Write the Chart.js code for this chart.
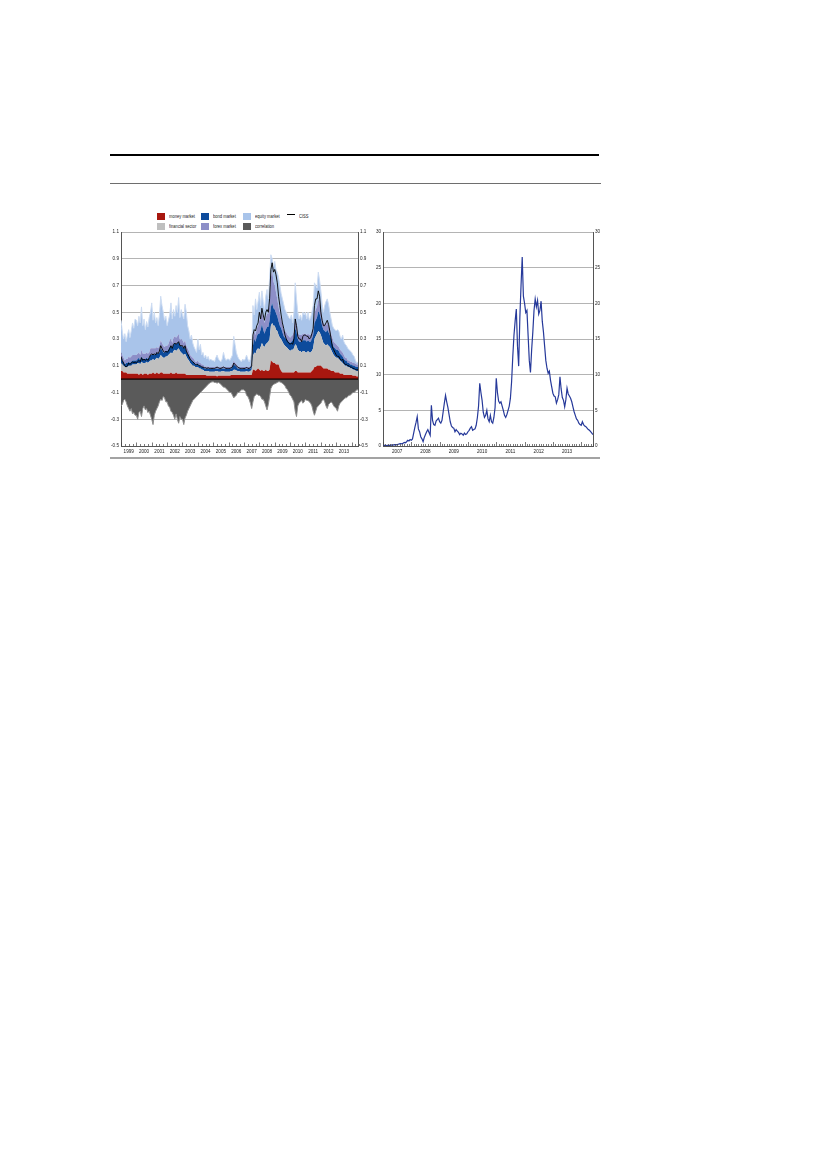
<!DOCTYPE html>
<html>
<head>
<meta charset="utf-8">
<title>CISS and sovereign stress</title>
<script src="https://cdn.jsdelivr.net/npm/chart.js@4.4.1/dist/chart.umd.min.js"></script>
<style>
  html, body { margin: 0; padding: 0; background: #fff; }
  body { width: 827px; height: 1169px; position: relative; overflow: hidden;
         font-family: 'Liberation Sans', Arial, sans-serif; }
  .rule { position: absolute; }
  canvas { position: absolute; }
  .key { position: absolute; font-size: 5.4px; line-height: 7px; color: #222; white-space: nowrap; }
  .key i { display: inline-block; width: 8px; height: 7px; vertical-align: top; margin-right: 4px; }
  .key b { display: inline-block; width: 8px; height: 1px; vertical-align: 3px; margin-right: 4px; background: #000; }
  .key span { display: inline-block; transform: scaleX(0.76); transform-origin: 0 50%; }
</style>
</head>
<body>
<div class="rule" style="left:110px;top:154px;width:489px;height:2px;background:#000"></div>
<div class="rule" style="left:110px;top:183px;width:491px;height:1px;background:#6e6e6e"></div>
<div class="rule" style="left:110px;top:457px;width:490px;height:2px;background:#a3a3a3"></div>
<div id="legend"></div>
<canvas id="cissChart" width="266" height="234" style="left:106px;top:226px"></canvas>
<canvas id="sovChart" width="240" height="234" style="left:368px;top:226px"></canvas>
<script>
'use strict';

// ---- left panel: monthly values, Jan 1999 .. Jun 2014 ----
const leftStart = 1999;
const leftYears = [1999, 2000, 2001, 2002, 2003, 2004, 2005, 2006, 2007, 2008, 2009, 2010, 2011, 2012, 2013];
const leftTicks = [-0.5, -0.3, -0.1, 0.1, 0.3, 0.5, 0.7, 0.9, 1.1];

const moneyMarket = [
  .06,.06,.05,.05,.05,.04,.04,.04,.04,.04,.04,.04,
  .04,.04,.03,.04,.04,.03,.04,.04,.04,.03,.04,.04,
  .04,.05,.04,.04,.05,.04,.04,.05,.05,.04,.04,.04,
  .04,.04,.04,.05,.04,.04,.04,.05,.04,.04,.04,.04,
  .04,.04,.04,.03,.03,.03,.03,.03,.03,.03,.03,.03,
  .03,.03,.03,.03,.03,.03,.03,.025,.025,.025,.025,.025,
  .025,.025,.025,.02,.025,.025,.025,.025,.025,.025,.025,.025,
  .025,.025,.03,.03,.03,.03,.03,.03,.03,.03,.03,.03,
  .03,.03,.03,.03,.03,.03,.03,.07,.07,.06,.07,.08,
  .07,.06,.07,.06,.06,.07,.06,.06,.07,.14,.13,.12,
  .12,.11,.11,.11,.08,.06,.05,.05,.05,.05,.05,.05,
  .05,.05,.05,.05,.06,.06,.05,.05,.05,.05,.05,.05,
  .05,.05,.05,.05,.05,.06,.07,.09,.09,.10,.10,.10,
  .10,.09,.08,.08,.08,.08,.07,.07,.06,.06,.06,.05,
  .05,.05,.05,.04,.04,.04,.03,.03,.03,.03,.03,.03,
  .03,.025,.025,.025,.02,.02
];
const financialSector = [
  .06,.05,.05,.04,.04,.05,.06,.06,.06,.07,.07,.07,
  .07,.08,.09,.07,.09,.09,.08,.08,.09,.09,.09,.10,
  .10,.10,.10,.11,.11,.11,.12,.13,.12,.12,.12,.13,
  .13,.14,.15,.15,.15,.17,.18,.16,.18,.19,.17,.16,
  .15,.14,.15,.14,.12,.11,.09,.08,.07,.07,.06,.06,
  .06,.05,.05,.04,.04,.03,.03,.035,.035,.03,.03,.03,
  .03,.03,.035,.04,.03,.03,.03,.035,.035,.03,.03,.03,
  .03,.03,.03,.03,.04,.04,.035,.03,.03,.025,.025,.025,
  .025,.025,.03,.025,.025,.03,.04,.10,.13,.13,.15,.15,
  .15,.18,.20,.19,.18,.19,.21,.22,.23,.26,.29,.28,
  .28,.26,.25,.22,.23,.24,.23,.21,.20,.19,.18,.17,
  .16,.17,.17,.18,.20,.19,.17,.16,.16,.15,.16,.16,
  .15,.15,.16,.15,.15,.15,.16,.21,.23,.24,.26,.25,
  .23,.21,.19,.18,.17,.18,.18,.17,.16,.14,.12,.12,
  .11,.11,.10,.10,.09,.08,.08,.07,.07,.06,.06,.05,
  .05,.045,.045,.04,.04,.04
];
const bondMarket = [
  .04,.03,.03,.02,.03,.03,.03,.02,.03,.03,.03,.03,
  .03,.03,.04,.03,.04,.03,.03,.03,.03,.03,.03,.04,
  .04,.04,.04,.04,.04,.04,.04,.05,.05,.04,.04,.04,
  .04,.04,.05,.05,.04,.05,.05,.05,.05,.05,.04,.05,
  .05,.05,.05,.04,.04,.04,.03,.03,.03,.03,.02,.02,
  .03,.02,.02,.02,.02,.02,.02,.02,.02,.02,.02,.02,
  .02,.02,.02,.02,.02,.02,.02,.02,.02,.02,.02,.02,
  .02,.02,.02,.03,.04,.03,.03,.02,.02,.02,.02,.02,
  .02,.02,.02,.02,.02,.02,.03,.08,.10,.09,.10,.11,
  .12,.13,.14,.12,.10,.11,.12,.11,.14,.14,.15,.13,
  .12,.12,.11,.10,.09,.08,.07,.06,.06,.06,.06,.06,
  .06,.06,.07,.08,.12,.10,.08,.07,.07,.08,.08,.08,
  .09,.08,.08,.08,.08,.09,.10,.12,.12,.12,.15,.14,
  .12,.10,.10,.10,.10,.11,.10,.09,.08,.07,.06,.06,
  .06,.06,.06,.05,.05,.05,.04,.04,.04,.03,.03,.03,
  .03,.03,.03,.03,.03,.03
];
const forexMarket = [
  .04,.04,.03,.03,.03,.03,.04,.04,.04,.04,.04,.04,
  .04,.04,.04,.04,.05,.04,.04,.04,.04,.04,.04,.05,
  .05,.04,.05,.04,.04,.04,.05,.06,.05,.05,.04,.04,
  .04,.04,.05,.05,.04,.05,.05,.05,.05,.06,.04,.05,
  .05,.04,.05,.04,.04,.03,.03,.03,.03,.02,.02,.02,
  .02,.02,.02,.02,.02,.015,.015,.015,.015,.015,.015,.015,
  .015,.015,.015,.015,.015,.015,.015,.015,.015,.015,.015,.015,
  .015,.015,.015,.02,.03,.02,.02,.015,.015,.015,.015,.015,
  .015,.015,.015,.015,.015,.015,.02,.06,.06,.05,.06,.06,
  .10,.09,.10,.09,.08,.09,.10,.10,.12,.22,.24,.20,
  .18,.16,.13,.11,.09,.07,.06,.05,.05,.05,.04,.04,
  .04,.04,.04,.05,.08,.06,.05,.05,.05,.05,.05,.05,
  .05,.05,.05,.05,.05,.05,.06,.07,.08,.08,.09,.08,
  .07,.06,.05,.05,.05,.06,.05,.05,.04,.04,.04,.04,
  .04,.03,.03,.03,.03,.03,.03,.02,.02,.02,.02,.02,
  .02,.02,.02,.02,.02,.02
];
const equityMarket = [
  .24,.18,.14,.20,.13,.18,.20,.15,.19,.24,.20,.27,
  .26,.21,.27,.24,.32,.21,.26,.18,.23,.20,.26,.27,
  .34,.21,.27,.19,.22,.17,.23,.33,.28,.25,.20,.22,
  .15,.18,.19,.27,.18,.21,.15,.24,.18,.27,.17,.22,
  .19,.18,.27,.25,.17,.15,.12,.16,.11,.09,.09,.07,
  .16,.10,.14,.07,.09,.065,.085,.055,.075,.05,.06,.05,
  .05,.04,.065,.085,.06,.05,.04,.055,.105,.07,.05,.06,
  .06,.05,.065,.07,.18,.14,.085,.075,.055,.05,.04,.06,
  .05,.06,.085,.06,.04,.055,.08,.24,.12,.27,.14,.18,
  .21,.09,.15,.12,.10,.16,.18,.11,.19,.17,.09,.11,
  .18,.17,.20,.22,.21,.19,.19,.19,.16,.15,.15,.14,
  .14,.16,.09,.14,.26,.19,.15,.12,.15,.11,.16,.14,
  .16,.12,.16,.11,.13,.15,.16,.23,.18,.14,.20,.17,
  .14,.10,.08,.14,.18,.17,.16,.12,.11,.09,.10,.10,
  .10,.12,.12,.10,.09,.13,.10,.10,.09,.09,.08,.08,
  .07,.06,.05,.025,.01,.02
];
const correlation = [
  -.20,-.19,-.16,-.15,-.17,-.20,-.22,-.24,-.22,-.26,-.25,-.27,
  -.27,-.30,-.25,-.24,-.28,-.22,-.20,-.23,-.22,-.25,-.24,-.27,
  -.30,-.34,-.27,-.24,-.22,-.20,-.17,-.15,-.16,-.13,-.14,-.17,
  -.17,-.20,-.21,-.24,-.25,-.27,-.30,-.26,-.30,-.33,-.28,-.30,
  -.30,-.34,-.29,-.27,-.24,-.22,-.20,-.18,-.16,-.15,-.14,-.13,
  -.12,-.11,-.10,-.09,-.08,-.07,-.06,-.05,-.04,-.03,-.025,-.02,
  -.02,-.025,-.025,-.03,-.025,-.03,-.04,-.05,-.06,-.06,-.07,-.08,
  -.09,-.10,-.10,-.12,-.14,-.13,-.12,-.10,-.10,-.09,-.08,-.08,
  -.08,-.09,-.12,-.13,-.15,-.18,-.22,-.17,-.13,-.12,-.11,-.12,
  -.12,-.13,-.15,-.15,-.17,-.20,-.23,-.19,-.13,-.07,-.05,-.04,
  -.035,-.03,-.025,-.02,-.02,-.025,-.03,-.04,-.05,-.07,-.08,-.10,
  -.12,-.13,-.15,-.17,-.24,-.28,-.20,-.18,-.17,-.16,-.18,-.17,
  -.15,-.16,-.16,-.17,-.18,-.20,-.24,-.27,-.24,-.21,-.20,-.19,
  -.18,-.16,-.15,-.17,-.20,-.22,-.19,-.18,-.17,-.18,-.20,-.21,
  -.22,-.24,-.20,-.18,-.17,-.16,-.15,-.14,-.14,-.13,-.12,-.12,
  -.11,-.10,-.10,-.09,-.08,-.08
];
const ciss = [
  .17,.14,.12,.10,.09,.10,.12,.11,.12,.13,.12,.13,
  .12,.13,.14,.13,.16,.14,.15,.14,.15,.14,.16,.18,
  .19,.18,.19,.18,.20,.19,.21,.25,.23,.21,.20,.21,
  .20,.21,.23,.25,.23,.26,.27,.26,.27,.28,.25,.25,
  .25,.23,.25,.21,.19,.17,.15,.14,.13,.12,.11,.11,
  .11,.10,.10,.09,.09,.085,.085,.08,.085,.08,.08,.08,
  .08,.08,.085,.09,.085,.08,.08,.085,.09,.085,.08,.08,
  .08,.08,.085,.09,.12,.11,.10,.09,.085,.08,.08,.08,
  .08,.08,.09,.08,.08,.085,.10,.33,.37,.36,.40,.42,
  .50,.45,.53,.48,.44,.50,.52,.50,.60,.82,.87,.80,
  .82,.78,.72,.62,.55,.48,.42,.38,.33,.30,.28,.27,
  .26,.27,.26,.30,.45,.40,.32,.30,.30,.28,.32,.33,
  .33,.32,.32,.30,.31,.34,.38,.55,.60,.60,.66,.62,
  .50,.44,.40,.40,.42,.44,.41,.36,.30,.24,.22,.20,
  .18,.17,.17,.15,.14,.15,.12,.11,.11,.10,.10,.09,
  .09,.08,.08,.07,.07,.07
];

// ---- right panel: half-monthly values, Jan 2007 .. Jun 2014 ----
const rightStart = 2007;
const rightYears = [2007, 2008, 2009, 2010, 2011, 2012, 2013];
const rightTicks = [0, 5, 10, 15, 20, 25, 30];
const sovereign = [
  0.1,0.1,0.1,0.05,0.1,0.1,0.1,0.15,0.1,0.15,0.2,0.15,0.2,0.25,0.3,0.35,0.3,0.4,0.5,0.45,0.6,0.8,0.7,0.9,
  0.8,1.0,1.8,2.6,3.3,4.1,2.4,2.0,1.3,1.0,0.6,1.2,1.6,2.0,2.3,1.9,1.5,5.7,3.6,3.0,2.9,3.5,3.7,3.9,
  3.4,3.2,3.6,4.8,6.0,7.1,6.2,5.4,4.4,3.4,2.8,2.6,2.5,2.0,2.3,2.1,1.9,1.6,1.8,1.7,1.5,1.8,1.6,1.7,
  2.0,2.2,2.5,2.7,2.2,2.3,2.4,2.9,4.0,5.6,8.8,7.5,6.4,4.7,4.0,4.3,5.0,3.8,3.4,4.3,3.4,3.2,4.0,5.4,
  9.5,7.5,6.3,6.0,6.2,5.6,5.0,4.3,4.0,4.4,5.0,5.6,6.7,9.0,12.5,15.5,17.5,19.2,14.0,11.2,18.0,22.5,26.5,21.0,
  20.0,18.7,19.0,15.5,12.0,10.3,13.5,16.0,19.0,20.6,19.5,20.4,18.5,19.0,20.3,17.5,16.0,14.0,12.0,10.9,10.2,10.5,9.2,8.3,
  7.4,7.0,6.9,6.0,6.5,7.2,9.7,8.0,6.8,6.4,5.5,6.5,8.1,7.3,7.0,6.7,6.2,5.5,4.8,4.3,3.8,3.6,3.2,3.0,
  2.9,3.4,3.0,2.8,2.7,2.5,2.3,2.2,2.0,1.8,1.6
];

Chart.defaults.font.family = "'Liberation Sans', Arial, sans-serif";
Chart.defaults.font.size = 4.6;
Chart.defaults.color = '#222';

const leftSeries = [moneyMarket, financialSector, bondMarket, forexMarket, equityMarket, correlation, ciss];
const leftLen = Math.min(...leftSeries.map(s => s.length));
const leftDates = Array.from({ length: leftLen }, (_, i) => leftStart + i / 12);
const rightDates = sovereign.map((_, i) => rightStart + i / 24);

function points(values, dates) {
  return dates.map((x, i) => ({ x: x, y: values[i] }));
}

// small inward tick marks along the time axis
const axisTicks = {
  id: 'axisTicks',
  afterDraw(chart, args, opts) {
    const sx = chart.scales.x, ctx = chart.ctx, base = chart.chartArea.bottom;
    const n = Math.round((sx.max - sx.min) * opts.perYear);
    ctx.save();
    ctx.strokeStyle = '#444';
    ctx.lineWidth = 0.7;
    for (let k = 0; k <= n; k++) {
      const px = Math.round(sx.getPixelForValue(sx.min + k / opts.perYear)) + 0.5;
      const len = k % opts.perYear === 0 ? opts.major : opts.minor;
      ctx.beginPath();
      ctx.moveTo(px, base);
      ctx.lineTo(px, base - len);
      ctx.stroke();
    }
    ctx.restore();
  }
};

// black line at zero, on top of the areas
const zeroLine = {
  id: 'zeroLine',
  afterDatasetsDraw(chart) {
    const py = chart.scales.y.getPixelForValue(0), a = chart.chartArea, ctx = chart.ctx;
    ctx.save();
    ctx.strokeStyle = '#000';
    ctx.lineWidth = 1.4;
    ctx.beginPath();
    ctx.moveTo(a.left, py);
    ctx.lineTo(a.right, py);
    ctx.stroke();
    ctx.restore();
  }
};

function yearAxis(years, min, max) {
  return {
    type: 'linear', min: min, max: max,
    grid: { display: false, drawTicks: false },
    border: { color: '#555', width: 1 },
    afterBuildTicks: s => { s.ticks = years.map(y => ({ value: y + 0.5 })); },
    ticks: { autoSkip: false, maxRotation: 0, padding: 3, callback: v => String(Math.floor(v)) },
    afterFit: s => { s.height = 14; }
  };
}

function valueAxis(pos, min, max, tickValues, width, fmt, onChart) {
  return {
    position: pos, min: min, max: max, stacked: pos === 'left',
    afterBuildTicks: s => { s.ticks = tickValues.map(v => ({ value: v })); },
    ticks: { padding: 2, callback: fmt },
    grid: { display: true, drawOnChartArea: onChart, drawTicks: false, color: '#b4b4b4', lineWidth: 1 },
    border: { color: '#555', width: 1 },
    afterFit: s => { s.width = width; }
  };
}

const areaStyle = { pointRadius: 0, borderWidth: 0, tension: 0, order: 1 };

const leftDatasets = [
  { label: 'money market', data: points(moneyMarket, leftDates), backgroundColor: '#a8170f', fill: 'origin', stack: 'pos' },
  { label: 'financial sector', data: points(financialSector, leftDates), backgroundColor: '#bfbfbf', fill: '-1', stack: 'pos' },
  { label: 'bond market', data: points(bondMarket, leftDates), backgroundColor: '#0d4b9c', fill: '-1', stack: 'pos' },
  { label: 'forex market', data: points(forexMarket, leftDates), backgroundColor: '#8d8fc8', fill: '-1', stack: 'pos' },
  { label: 'equity market', data: points(equityMarket, leftDates), backgroundColor: '#a9c4ea', fill: '-1', stack: 'pos',
    borderColor: '#cddcf2', borderWidth: 1 },
  { label: 'correlation', data: points(correlation, leftDates), backgroundColor: '#5a5a5a', fill: 'origin', stack: 'neg',
    borderColor: '#8e8e8e', borderWidth: 1 },
  { label: 'CISS', data: points(ciss, leftDates), borderColor: '#000', borderWidth: 0.9, fill: false, stack: 'ciss', order: 0 }
].map(d => Object.assign({}, areaStyle, d));

new Chart(document.getElementById('cissChart'), {
  type: 'line',
  data: { datasets: leftDatasets },
  plugins: [zeroLine, axisTicks],
  options: {
    responsive: false, animation: false, events: [],
    layout: { padding: { top: 6 } },
    plugins: { legend: { display: false }, tooltip: { enabled: false }, axisTicks: { perYear: 4, minor: 2, major: 3.5 } },
    scales: {
      x: yearAxis(leftYears, leftStart, leftDates[leftDates.length - 1]),
      y: valueAxis('left', -0.5, 1.1, leftTicks, 15, v => v.toFixed(1), true),
      y2: valueAxis('right', -0.5, 1.1, leftTicks, 14, v => v.toFixed(1), false)
    }
  }
});

new Chart(document.getElementById('sovChart'), {
  type: 'line',
  data: {
    datasets: [{ label: 'sovereign stress', data: points(sovereign, rightDates), borderColor: '#26399a',
      borderWidth: 1.2, pointRadius: 0, tension: 0, fill: false }]
  },
  plugins: [axisTicks],
  options: {
    responsive: false, animation: false, events: [],
    layout: { padding: { top: 6 } },
    plugins: { legend: { display: false }, tooltip: { enabled: false }, axisTicks: { perYear: 12, minor: 2, major: 4 } },
    scales: {
      x: yearAxis(rightYears, rightStart, rightDates[rightDates.length - 1]),
      y: valueAxis('left', 0, 30, rightTicks, 15, v => String(v), true),
      y2: valueAxis('right', 0, 30, rightTicks, 15, v => String(v), false)
    }
  }
});

// legend for the left panel, two rows, filled column by column
const legendBox = document.getElementById('legend');
const keyCols = [157, 201, 243, 287];
leftDatasets.forEach((d, i) => {
  const item = document.createElement('div');
  item.className = 'key';
  item.style.left = keyCols[Math.floor(i / 2)] + 'px';
  item.style.top = (213 + (i % 2) * 9.5) + 'px';
  const mark = document.createElement(d.fill === false ? 'b' : 'i');
  if (d.fill !== false) mark.style.background = d.backgroundColor;
  const text = document.createElement('span');
  text.textContent = d.label;
  item.appendChild(mark);
  item.appendChild(text);
  legendBox.appendChild(item);
});
</script>
</body>
</html>
